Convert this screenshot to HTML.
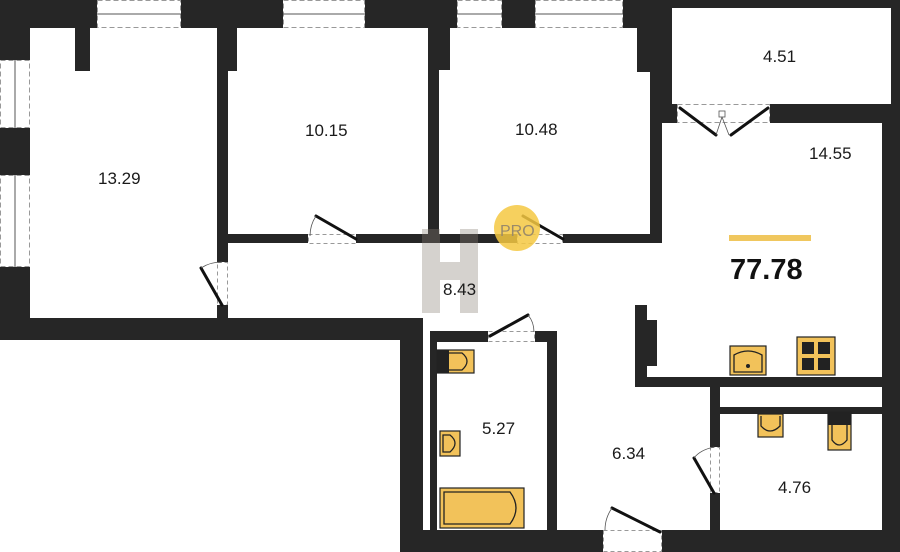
<!DOCTYPE html>
<html><head><meta charset="utf-8"><style>
html,body{margin:0;padding:0;background:#fff;}
svg{display:block}
text{font-family:"Liberation Sans",sans-serif;fill:#1a1a1a}
</style></head><body>
<svg width="900" height="552" viewBox="0 0 900 552" xmlns="http://www.w3.org/2000/svg">
<g fill="#262626">
<!-- top-left corner & left wall -->
<rect x="0" y="0" width="97" height="28"/>
<rect x="0" y="0" width="30" height="60"/>
<rect x="0" y="128" width="30" height="47"/>
<rect x="0" y="267" width="30" height="73"/>
<rect x="75" y="28" width="15" height="43"/>
<!-- top walls -->
<rect x="181" y="0" width="102" height="28"/>
<rect x="365" y="0" width="92" height="28"/>
<rect x="502" y="0" width="33" height="28"/>
<rect x="623" y="0" width="44" height="28"/>
<rect x="637" y="0" width="30" height="72"/>
<rect x="650" y="0" width="12" height="243"/>
<!-- wall between 13.29 and 10.15 -->
<rect x="217" y="28" width="11" height="234"/>
<rect x="217" y="28" width="20" height="43"/>
<rect x="217" y="305" width="11" height="15"/>
<!-- wall between 10.15 and 10.48 -->
<rect x="428" y="0" width="11" height="243"/>
<rect x="428" y="0" width="22" height="70"/>
<!-- corridor top wall -->
<rect x="217" y="234" width="91" height="9"/>
<rect x="356" y="234" width="161" height="9"/>
<rect x="563" y="234" width="99" height="9"/>
<!-- bottom-left wall -->
<rect x="0" y="318" width="423" height="22"/>
<rect x="400" y="318" width="23" height="234"/>
<rect x="430" y="331" width="7" height="200"/>
<!-- bathroom -->
<rect x="430" y="331" width="58" height="11"/>
<rect x="535" y="331" width="22" height="11"/>
<rect x="547" y="331" width="10" height="200"/>
<!-- bottom wall -->
<rect x="400" y="530" width="203" height="22"/>
<rect x="662" y="530" width="238" height="22"/>
<!-- balcony -->
<rect x="667" y="0" width="233" height="8"/>
<rect x="662" y="0" width="10" height="123"/>
<rect x="662" y="104" width="15" height="19"/>
<rect x="770" y="104" width="130" height="19"/>
<rect x="891" y="0" width="9" height="123"/>
<rect x="882" y="104" width="18" height="448"/>
<!-- kitchen -->
<rect x="635" y="305" width="12" height="82"/>
<rect x="647" y="320" width="10" height="46"/>
<rect x="635" y="377" width="247" height="10"/>
<rect x="718" y="407" width="164" height="7"/>
<rect x="710" y="387" width="10" height="60"/>
<rect x="710" y="493" width="10" height="40"/>
</g>
<!-- windows -->
<g fill="none" stroke="#999" stroke-width="1" stroke-dasharray="5,3">
<rect x="97.5" y="0.5" width="83" height="27"/>
<rect x="283.5" y="0.5" width="81" height="27"/>
<rect x="457.5" y="0.5" width="44" height="27"/>
<rect x="535.5" y="0.5" width="87" height="27"/>
<rect x="0.5" y="60.5" width="29" height="67"/>
<rect x="0.5" y="175.5" width="29" height="91"/>
<rect x="677.5" y="104.5" width="92" height="18"/>
</g>
<g stroke="#555" stroke-width="1">
<line x1="97" y1="14" x2="181" y2="14"/><line x1="283" y1="14" x2="365" y2="14"/>
<line x1="457" y1="14" x2="502" y2="14"/><line x1="535" y1="14" x2="623" y2="14"/>
<line x1="15" y1="60" x2="15" y2="128"/><line x1="15" y1="175" x2="15" y2="267"/>
</g>
<!-- door gaps dashed -->
<g fill="none" stroke="#999" stroke-dasharray="4,3">
<rect x="217.5" y="262.5" width="10" height="42"/>
<rect x="308.5" y="234.5" width="47" height="9"/>
<rect x="517.5" y="234.5" width="45" height="9"/>
<rect x="488.5" y="331.5" width="46" height="10"/>
<rect x="603.5" y="530.5" width="58" height="21"/>
<rect x="710.5" y="447.5" width="9" height="45"/>
</g>
<g stroke="#111" stroke-width="3" stroke-linecap="round">
<line x1="222" y1="305" x2="201" y2="268"/>
<line x1="356" y1="239" x2="316" y2="216"/>
<line x1="563" y1="239" x2="523" y2="216"/>
<line x1="490" y1="336" x2="528" y2="315"/>
<line x1="660" y1="532" x2="612" y2="508"/>
<line x1="714" y1="493" x2="694" y2="458"/>
<line x1="680" y1="108" x2="716" y2="135"/>
<line x1="768" y1="108" x2="731" y2="135"/>
</g>
<g fill="none" stroke="#555" stroke-width="0.8">
<path d="M201 268 Q210 262 222 262"/><path d="M316 216 Q310 225 310 236"/>
<path d="M528 315 Q534 322 534 332"/><path d="M612 508 Q605 518 605 530"/>
<path d="M694 458 Q700 450 714 447"/>
<rect x="719" y="111" width="6" height="6"/>
<path d="M722 117 L716 135 M722 117 L729 135"/>
</g>
<!-- logo -->
<g opacity="0.35" fill="#8a8076">
<rect x="422" y="229" width="18" height="84"/>
<rect x="460" y="229" width="18" height="84"/>
<rect x="440" y="262" width="20" height="18"/>
</g>
<circle cx="517" cy="228" r="23" fill="#f5c842" opacity="0.85"/>
<text x="500" y="236" font-size="16" fill="#9a8a6a" style="fill:#9a8a6a">PRO</text>
<!-- fixtures -->
<g fill="#f2c25a" stroke="#222" stroke-width="1.2">
<rect x="730" y="346" width="36" height="29"/>
<rect x="797" y="337" width="38" height="38"/>
<rect x="758" y="414" width="25" height="23"/>
<rect x="828" y="412" width="23" height="38"/>
<rect x="437" y="350" width="37" height="23"/>
<rect x="440" y="431" width="20" height="25"/>
<rect x="440" y="488" width="84" height="40"/>
</g>
<g fill="none" stroke="#222" stroke-width="1.3">
<path d="M734 372 L734 355 Q748 347 762 355 L762 372 Z"/>
<path d="M761 416 L761 426 Q770 436 780 426 L780 416"/>
<path d="M832 425 L832 440 Q839 450 847 440 L847 425"/>
<path d="M449 353 L462 353 Q472 361 462 370 L449 370"/>
<path d="M443 435 L450 435 Q460 443 450 452 L443 452 Z"/>
<path d="M444 492 L510 492 Q522 508 510 524 L444 524 Z"/>
</g>
<g fill="#222">
<rect x="802" y="342" width="12" height="12"/><rect x="818" y="342" width="12" height="12"/>
<rect x="802" y="358" width="12" height="12"/><rect x="818" y="358" width="12" height="12"/>
<rect x="828" y="412" width="23" height="13"/>
<rect x="437" y="350" width="12" height="23"/>
<circle cx="748" cy="366" r="2"/>
</g>
<rect x="729" y="235" width="82" height="6" fill="#f0c75e"/>
<text x="730" y="279" font-size="29" font-weight="bold" style="fill:#111">77.78</text>
<g font-size="17">
<text x="98" y="184">13.29</text>
<text x="305" y="136">10.15</text>
<text x="515" y="135">10.48</text>
<text x="763" y="62">4.51</text>
<text x="809" y="159">14.55</text>
<text x="443" y="295">8.43</text>
<text x="482" y="434">5.27</text>
<text x="612" y="459">6.34</text>
<text x="778" y="493">4.76</text>
</g>
</svg>
</body></html>
